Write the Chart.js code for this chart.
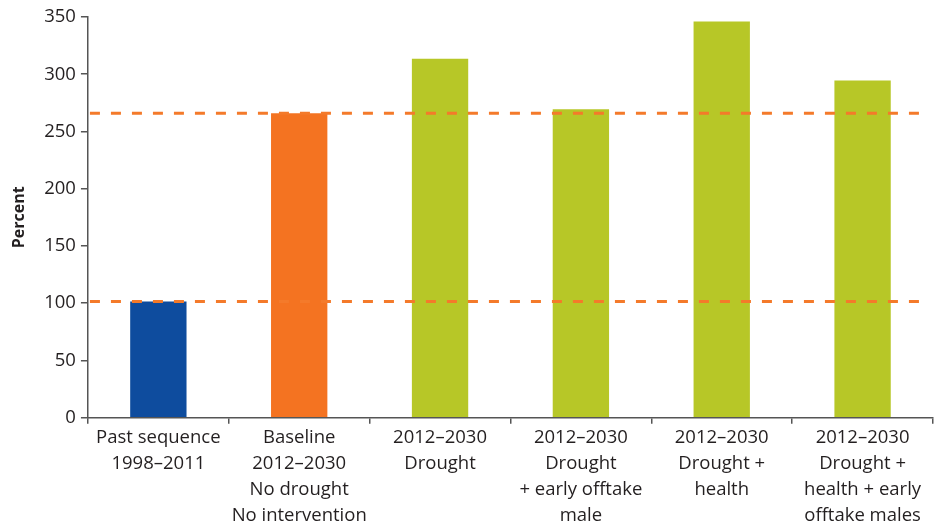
<!DOCTYPE html>
<html>
<head>
  <title>Percent by scenario</title>
  <script src="https://cdn.jsdelivr.net/npm/chart.js"></script>
  <style>
    body { margin: 0; background: #fff; }
    #wrap { width: 934px; height: 522px; }
  </style>
</head>
<body>
  <div id="wrap"><canvas id="graphique"></canvas></div>

  <script>
    // Données
    const categories = [
      ["Past sequence", "1998\u20132011"],
      ["Baseline", "2012\u20132030", "No drought", "No intervention"],
      ["2012\u20132030", "Drought"],
      ["2012\u20132030", "Drought", "+ early offtake", "male"],
      ["2012\u20132030", "Drought +", "health"],
      ["2012\u20132030", "Drought +", "health + early", "offtake males"]
    ];
    const values = [101.5, 266, 313.5, 269.5, 346, 294.5];
    const barColors = ["#0E4C9E", "#F47321", "#B7C727", "#B7C727", "#B7C727", "#B7C727"];
    const refLines = [101.5, 266];
    const yTicks = [0, 50, 100, 150, 200, 250, 300, 350];

    // lignes pointillées de référence
    const refLinePlugin = {
      id: "refLines",
      afterDatasetsDraw(chart) {
        const ctx = chart.ctx;
        const y = chart.scales.y;
        const area = chart.chartArea;
        ctx.save();
        ctx.strokeStyle = "#F47A2A";
        ctx.lineWidth = 3;
        ctx.setLineDash([10, 11]);
        refLines.forEach(v => {
          const py = y.getPixelForValue(v);
          ctx.beginPath();
          ctx.moveTo(area.left + 2, py);
          ctx.lineTo(area.right - 14, py);
          ctx.stroke();
        });
        ctx.restore();
      }
    };

    Chart.defaults.font.family = "'Open Sans', 'Noto Sans', sans-serif";
    Chart.defaults.color = "#231f20";

    new Chart(document.getElementById("graphique").getContext("2d"), {
      type: "bar",
      data: {
        labels: categories,
        datasets: [{
          data: values,
          backgroundColor: barColors,
          categoryPercentage: 0.4,
          barPercentage: 1
        }]
      },
      options: {
        responsive: true,
        maintainAspectRatio: false,
        animation: false,
        layout: { padding: { top: 17, right: 1, left: 10, bottom: -8 } },
        plugins: {
          legend: { display: false },
          tooltip: { enabled: false }
        },
        scales: {
          x: {
            grid: {
              offset: true,
              drawOnChartArea: false,
              drawTicks: true,
              tickLength: 6,
              color: "#555",
              lineWidth: 1.5
            },
            border: { color: "#555", width: 1.5 },
            ticks: {
              font: { size: 18.5, lineHeight: 1.41 },
              color: "#231f20",
              maxRotation: 0,
              autoSkip: false,
              padding: 1
            }
          },
          y: {
            min: 0,
            max: 350,
            afterBuildTicks(scale) {
              scale.ticks = yTicks.map(v => ({ value: v }));
            },
            grid: {
              drawOnChartArea: false,
              drawTicks: true,
              tickLength: 7,
              color: "#555",
              lineWidth: 1.5
            },
            border: { color: "#555", width: 1.5 },
            ticks: {
              font: { size: 18.5 },
              color: "#231f20",
              padding: 5
            },
            title: {
              display: true,
              text: "Percent",
              font: { size: 16, weight: "bold" },
              color: "#231f20",
              padding: { top: 0, bottom: 10 }
            }
          }
        }
      },
      plugins: [refLinePlugin]
    });
  </script>
</body>
</html>
